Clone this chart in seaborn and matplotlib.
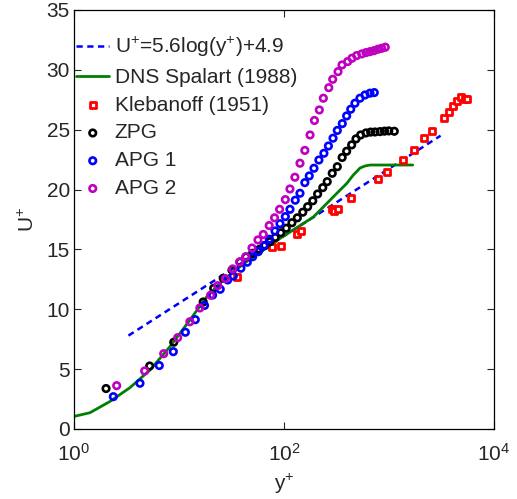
import matplotlib
matplotlib.use("Agg")
import matplotlib.pyplot as plt
import seaborn as sns

# log law, two end points of the straight dashed line
log_x = [3.3, 3100]
log_y = [7.8, 24.5]

# DNS Spalart (1988)
dns_x = [1.0, 1.42, 2.2, 3.41, 5.3, 8.2, 12.7, 18.4, 26.4, 44, 79, 91, 190, 343, 395, 456, 530, 591, 661, 1682]
dns_y = [1.05, 1.36, 2.3, 3.45, 4.93, 6.88, 9.1, 11.05, 12.45, 13.98, 15.5, 15.9, 17.7, 19.97, 20.5, 21.2, 21.8, 21.97, 22.05, 22.05]

# Klebanoff (1951)
kl_x = [35.5, 77.4, 92.8, 134, 144, 284, 300, 329, 432, 792, 955, 1370, 1747, 2154, 2552, 3326, 3700, 4100, 4450, 4900, 5300, 5500]
kl_y = [12.7, 15.2, 15.3, 16.3, 16.5, 18.35, 18.25, 18.35, 19.3, 20.9, 21.45, 22.5, 23.3, 24.3, 24.9, 25.96, 26.5, 27.0, 27.4, 27.7, 27.6, 27.6]

# ZPG
zpg_x = [2.02, 5.26, 8.92, 17.0, 21.4, 26.4, 32.0, 38.1, 43.5, 50.3, 58.2, 65.9, 73.6, 82.5, 93.0, 105, 119, 134, 151,
         168, 188, 209, 234, 258, 288, 322, 358, 395, 441, 485, 537, 604, 669, 736, 821, 906, 995, 1123]
zpg_y = [3.38, 5.26, 7.25, 10.61, 11.75, 12.59, 13.28, 13.95, 14.37, 14.68, 15.0, 15.33, 15.65, 16.0, 16.39, 16.77, 17.23,
         17.64, 18.11, 18.57, 19.06, 19.63, 20.16, 20.66, 21.36, 21.91, 22.68, 23.2, 23.73, 24.23, 24.56, 24.73, 24.8,
         24.81, 24.84, 24.88, 24.9, 24.87]

# APG 1
apg1_x = [2.37, 4.25, 6.49, 8.83, 11.5, 14.3, 17.5, 20.9, 24.7, 29.1, 32.9, 38.9, 44.7, 50.3, 56.9, 64.5, 72.4, 82.1, 91.6,
          103, 114, 128, 142, 158, 174, 193, 215, 240, 265, 293, 322, 359, 395, 432, 474, 529, 591, 659, 724]
apg1_y = [2.70, 3.82, 5.30, 6.46, 8.08, 9.13, 10.32, 11.19, 11.67, 12.45, 12.78, 13.43, 13.93, 14.39, 14.81, 15.31, 15.85,
          16.54, 17.15, 17.74, 18.35, 19.11, 19.69, 20.58, 21.14, 21.78, 22.47, 23.03, 23.64, 24.29, 24.94, 25.51, 26.15,
          26.71, 27.21, 27.63, 27.9, 28.05, 28.1]

# APG 2
apg2_x = [2.55, 4.71, 7.15, 9.72, 12.7, 15.8, 20.0, 23.4, 27.6, 32.5, 37.8, 43.2, 49.6, 56.5, 63.5, 72.3, 81.3, 90.8, 103,
          114, 127, 142, 158, 177, 195, 217, 237, 267, 291, 327, 357, 404, 444, 492, 550, 604, 659, 719, 785, 851, 922]
apg2_y = [3.62, 4.85, 6.29, 7.63, 8.96, 10.11, 11.17, 11.97, 12.56, 13.37, 13.95, 14.39, 15.12, 15.79, 16.25, 16.99, 17.64,
          18.35, 19.16, 20.05, 21.03, 22.2, 23.27, 24.56, 25.77, 26.65, 27.63, 28.51, 29.21, 29.85, 30.41, 30.69, 30.97,
          31.19, 31.33, 31.44, 31.52, 31.6, 31.72, 31.8, 31.89]

sns.set_style("ticks")
plt.rcParams['font.family'] = ['Liberation Sans', 'DejaVu Sans']
plt.rcParams['mathtext.default'] = 'regular'

fig = plt.figure(figsize=(5.17, 4.99), dpi=100)
ax = fig.add_axes([0.1431, 0.1403, 0.8124, 0.8397])

sns.lineplot(x=log_x, y=log_y, ax=ax, color='#0000ff', lw=1.8, linestyle=(0, (2.5, 1.8)),
             label='U$^{+}$=5.6log(y$^{+}$)+4.9', sort=False)
sns.lineplot(x=dns_x, y=dns_y, ax=ax, color='#008000', lw=2.0, label='DNS Spalart (1988)', sort=False)
sns.scatterplot(x=kl_x, y=kl_y, ax=ax, marker='s', s=20, facecolor='white', edgecolor='#ff0000',
                linewidth=2.0, label='Klebanoff (1951)', zorder=3)
for xs, ys, c, lab in [(zpg_x, zpg_y, 'black', 'ZPG'),
                       (apg1_x, apg1_y, '#0000ff', 'APG 1'),
                       (apg2_x, apg2_y, '#bf00bf', 'APG 2')]:
    sns.scatterplot(x=xs, y=ys, ax=ax, marker='o', s=22, facecolor='none', edgecolor=c,
                    linewidth=1.9, label=lab, zorder=3)

ax.set_xscale('log')
ax.set_xlim(1, 1e4)
ax.set_ylim(0, 35)
ax.set_xticks([1, 100, 10000])
ax.minorticks_off()
ax.set_yticks(range(0, 36, 5))
ax.tick_params(direction='in', length=5, width=0.8, labelsize=15, top=True, right=True, pad=3)
ax.tick_params(axis='x', pad=10)
for sp in ax.spines.values():
    sp.set_linewidth(0.9)
    sp.set_color('black')

ax.set_xlabel('y$^{+}$', fontsize=15, labelpad=5)
ax.set_ylabel('U$^{+}$', fontsize=15, labelpad=6)

ax.legend(loc='upper left', bbox_to_anchor=(0.0, 0.945), borderaxespad=0, borderpad=0.1,
          frameon=False, fontsize=15, handlelength=1.6, handletextpad=0.25, labelspacing=0.42)

fig.savefig('out.png', dpi=100)
